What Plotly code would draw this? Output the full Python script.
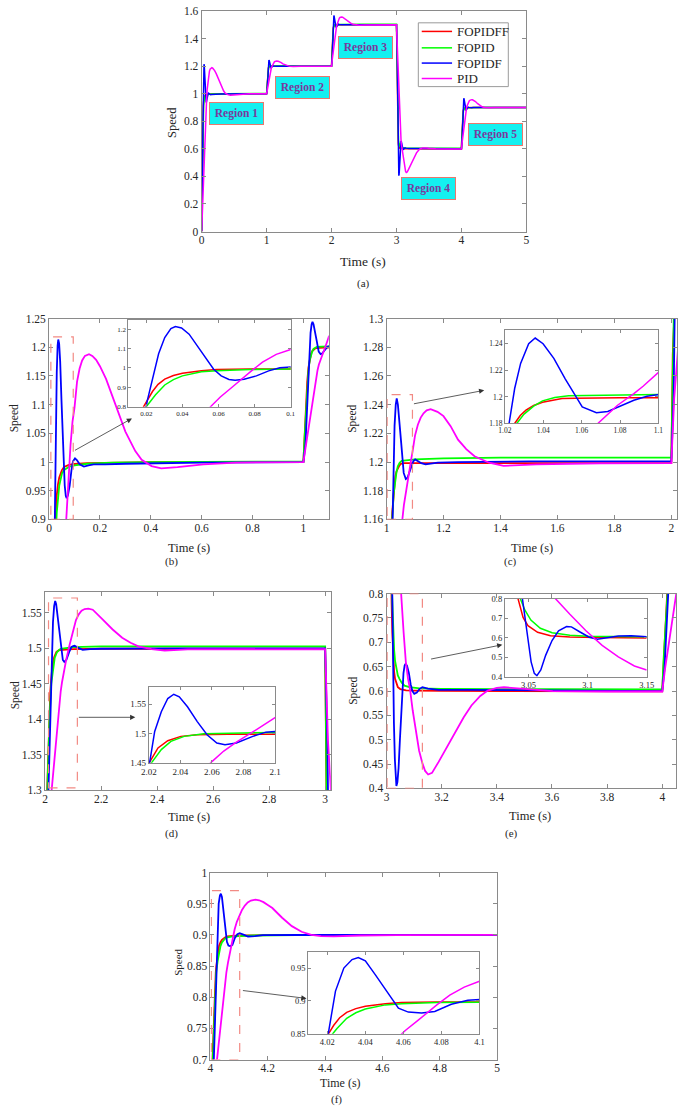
import plotly.graph_objects as go

W, H = 685, 1112

# ---------------- data (time in s, speed) ----------------
# FOPIDFF (red)
fopidff_t_r1 = [0, 0.005, 0.010, 0.015, 0.0185, 0.0205, 0.0234, 0.0265, 0.0302, 0.035, 0.040, 0.0505, 0.059, 0.0776, 0.100, 0.150, 0.250, 0.400, 1.000]
fopidff_y_r1 = [0, 0.25, 0.50, 0.70, 0.80, 0.835, 0.878, 0.915, 0.942, 0.961, 0.973, 0.986, 0.9915, 0.995, 0.9966, 0.998, 0.999, 1.0, 1.0]
fopidff_t_r2 = [1.005, 1.010, 1.015, 1.020, 1.0251, 1.028, 1.031, 1.035, 1.0396, 1.045, 1.0498, 1.057, 1.063, 1.080, 1.100, 1.200, 1.500, 2.000]
fopidff_y_r2 = [1.05, 1.10, 1.14, 1.165, 1.18, 1.186, 1.190, 1.1935, 1.196, 1.1975, 1.1987, 1.199, 1.1992, 1.1993, 1.1993, 1.1993, 1.1993, 1.1993]
fopidff_t_r3 = [2.005, 2.010, 2.015, 2.0185, 2.0206, 2.0258, 2.032, 2.0403, 2.0507, 2.070, 2.100, 2.200, 3.000]
fopidff_y_r3 = [1.275, 1.35, 1.41, 1.44, 1.4517, 1.4753, 1.4876, 1.495, 1.4978, 1.4985, 1.499, 1.4995, 1.4995]
fopidff_t_r4 = [3.005, 3.010, 3.015, 3.0185, 3.021, 3.024, 3.0275, 3.031, 3.036, 3.041, 3.050, 3.060, 3.071, 3.100, 3.200, 4.000]
fopidff_y_r4 = [1.275, 1.05, 0.87, 0.78, 0.72, 0.67, 0.64, 0.625, 0.614, 0.608, 0.604, 0.6025, 0.6015, 0.601, 0.6003, 0.5995]
fopidff_t_r5 = [4.005, 4.010, 4.015, 4.0185, 4.0205, 4.0234, 4.0265, 4.0302, 4.035, 4.040, 4.0505, 4.059, 4.0776, 4.100, 4.200, 4.500, 5.000]
fopidff_y_r5 = [0.675, 0.75, 0.81, 0.84, 0.85, 0.863, 0.8745, 0.8826, 0.8883, 0.892, 0.8958, 0.8975, 0.8985, 0.899, 0.8995, 0.9, 0.9]

# FOPID (green)
fopid_t_r1 = [0, 0.005, 0.010, 0.015, 0.020, 0.0251, 0.0302, 0.035, 0.040, 0.0505, 0.059, 0.0776, 0.100, 0.150, 0.250, 0.400, 1.000]
fopid_y_r1 = [0, 0.22, 0.45, 0.65, 0.80, 0.861, 0.912, 0.940, 0.959, 0.980, 0.986, 0.9915, 0.994, 0.997, 0.999, 1.0, 1.001]
fopid_t_r2 = [1.005, 1.010, 1.015, 1.020, 1.0251, 1.030, 1.035, 1.0396, 1.046, 1.0532, 1.070, 1.100, 1.200, 1.400, 2.000]
fopid_y_r2 = [1.045, 1.09, 1.13, 1.16, 1.178, 1.187, 1.193, 1.197, 1.1995, 1.2008, 1.2013, 1.2018, 1.2026, 1.203, 1.203]
fopid_t_r3 = [2.005, 2.010, 2.015, 2.0217, 2.0279, 2.034, 2.0424, 2.0548, 2.100, 2.200, 2.500, 3.000]
fopid_y_r3 = [1.265, 1.335, 1.395, 1.45, 1.4725, 1.4865, 1.495, 1.4994, 1.5017, 1.5028, 1.503, 1.503]
fopid_t_r4 = [3.005, 3.010, 3.015, 3.020, 3.024, 3.0275, 3.031, 3.036, 3.041, 3.047, 3.055, 3.065, 3.083, 3.120, 3.200, 3.600, 4.000]
fopid_y_r4 = [1.29, 1.08, 0.905, 0.80, 0.72, 0.685, 0.662, 0.645, 0.632, 0.625, 0.617, 0.611, 0.608, 0.6055, 0.6045, 0.6038, 0.6035]
fopid_t_r5 = [4.005, 4.010, 4.015, 4.020, 4.0251, 4.0302, 4.035, 4.040, 4.0505, 4.059, 4.0776, 4.100, 4.150, 4.300, 5.000]
fopid_y_r5 = [0.666, 0.735, 0.795, 0.84, 0.858, 0.8736, 0.882, 0.8877, 0.894, 0.8958, 0.8975, 0.898, 0.899, 0.8998, 0.9]

# FOPIDF (blue)
fopidf_t_r1 = [0, 0.008, 0.014, 0.018, 0.0205, 0.0234, 0.0268, 0.0302, 0.0336, 0.0361, 0.0395, 0.0437, 0.0488, 0.0531, 0.0573, 0.0615, 0.0658, 0.0692, 0.0742, 0.081, 0.0878, 0.094, 0.102, 0.110, 0.120, 0.137, 0.155, 0.175, 0.220, 0.300, 0.600, 1.000]
fopidf_y_r1 = [0, 0.15, 0.45, 0.70, 0.83, 0.937, 1.073, 1.157, 1.203, 1.2136, 1.207, 1.1746, 1.107, 1.047, 0.9932, 0.959, 0.9407, 0.937, 0.942, 0.959, 0.985, 1.001, 1.0065, 1.003, 0.996, 0.992, 0.994, 0.996, 0.996, 0.997, 0.999, 1.0]
fopidf_t_r2 = [1.008, 1.014, 1.018, 1.0222, 1.0251, 1.0282, 1.0324, 1.0358, 1.0399, 1.0455, 1.0515, 1.0603, 1.0677, 1.0736, 1.080, 1.0872, 1.094, 1.1006, 1.110, 1.122, 1.137, 1.155, 1.180, 1.250, 1.500, 2.000]
fopidf_y_r2 = [1.03, 1.09, 1.14, 1.18, 1.2063, 1.2252, 1.24, 1.2443, 1.24, 1.229, 1.2134, 1.1924, 1.1881, 1.189, 1.193, 1.1975, 1.2005, 1.2018, 1.2008, 1.1992, 1.1984, 1.199, 1.1996, 1.2, 1.2004, 1.2004]
fopidf_t_r3 = [2.008, 2.014, 2.018, 2.0206, 2.0237, 2.0279, 2.032, 2.0358, 2.0393, 2.0445, 2.0507, 2.0569, 2.0631, 2.0683, 2.0755, 2.0859, 2.0942, 2.100, 2.105, 2.115, 2.134, 2.160, 2.200, 2.500, 3.000]
fopidf_y_r3 = [1.245, 1.335, 1.41, 1.4517, 1.5034, 1.537, 1.5596, 1.5669, 1.5624, 1.5455, 1.5202, 1.4978, 1.4837, 1.4809, 1.4837, 1.495, 1.5022, 1.5034, 1.5037, 1.5015, 1.498, 1.499, 1.4995, 1.5, 1.5]
fopidf_t_r4 = [3.008, 3.014, 3.018, 3.0206, 3.0234, 3.0268, 3.0302, 3.0336, 3.0358, 3.0395, 3.0437, 3.0488, 3.0531, 3.0573, 3.0615, 3.0658, 3.0692, 3.0742, 3.081, 3.0878, 3.094, 3.1006, 3.110, 3.120, 3.130, 3.150, 3.189, 3.300, 3.600, 4.000]
fopidf_y_r4 = [1.365, 1.095, 0.87, 0.75, 0.66, 0.535, 0.46, 0.417, 0.405, 0.413, 0.442, 0.503, 0.558, 0.606, 0.637, 0.653, 0.656, 0.652, 0.637, 0.613, 0.600, 0.5942, 0.597, 0.6045, 0.6078, 0.605, 0.6024, 0.6022, 0.601, 0.600]
fopidf_t_r5 = [4.008, 4.014, 4.018, 4.0205, 4.0243, 4.0287, 4.033, 4.0363, 4.040, 4.0452, 4.0522, 4.0574, 4.0626, 4.0696, 4.0765, 4.0852, 4.0939, 4.102, 4.115, 4.131, 4.155, 4.182, 4.300, 5.000]
fopidf_y_r5 = [0.645, 0.735, 0.81, 0.85, 0.915, 0.950, 0.963, 0.966, 0.961, 0.94, 0.91, 0.889, 0.883, 0.8816, 0.884, 0.895, 0.901, 0.9026, 0.9005, 0.8974, 0.898, 0.8995, 0.8998, 0.9]

# PID (magenta)
pid_t_r1 = [0, 0.010, 0.020, 0.030, 0.040, 0.048, 0.0556, 0.061, 0.0675, 0.0725, 0.0776, 0.0844, 0.092, 0.100, 0.110, 0.120, 0.130, 0.141, 0.157, 0.170, 0.185, 0.200, 0.224, 0.262, 0.300, 0.339, 0.364, 0.403, 0.441, 0.505, 0.607, 0.735, 1.000]
pid_y_r1 = [0, 0.145, 0.29, 0.44, 0.59, 0.71, 0.80, 0.85, 0.90, 0.94, 0.98, 1.03, 1.07, 1.095, 1.14, 1.163, 1.177, 1.185, 1.188, 1.185, 1.178, 1.167, 1.145, 1.099, 1.053, 1.019, 1.004, 0.993, 0.989, 0.991, 0.996, 0.999, 1.0]
pid_t_r2 = [1.010, 1.020, 1.030, 1.040, 1.048, 1.0556, 1.061, 1.0685, 1.0725, 1.0787, 1.0872, 1.092, 1.100, 1.110, 1.120, 1.130, 1.141, 1.155, 1.179, 1.200, 1.225, 1.251, 1.280, 1.309, 1.335, 1.360, 1.411, 1.526, 1.750, 2.000]
pid_y_r2 = [1.029, 1.058, 1.088, 1.118, 1.142, 1.16, 1.17, 1.18, 1.186, 1.1937, 1.2025, 1.208, 1.2184, 1.226, 1.231, 1.234, 1.236, 1.2369, 1.235, 1.232, 1.225, 1.2156, 1.209, 1.204, 1.2015, 1.1995, 1.1973, 1.1984, 1.199, 1.1992]
pid_t_r3 = [2.010, 2.023, 2.030, 2.040, 2.048, 2.0556, 2.060, 2.0675, 2.0755, 2.088, 2.100, 2.110, 2.120, 2.130, 2.141, 2.154, 2.170, 2.185, 2.205, 2.240, 2.275, 2.305, 2.333, 2.380, 2.427, 2.509, 2.650, 3.000]
pid_y_r3 = [1.244, 1.30, 1.332, 1.377, 1.413, 1.44, 1.452, 1.47, 1.485, 1.5062, 1.527, 1.540, 1.548, 1.553, 1.5555, 1.556, 1.5545, 1.549, 1.541, 1.527, 1.515, 1.508, 1.503, 1.499, 1.497, 1.4986, 1.499, 1.499]
pid_t_r4 = [3.010, 3.023, 3.030, 3.040, 3.048, 3.053, 3.062, 3.070, 3.078, 3.085, 3.095, 3.105, 3.118, 3.130, 3.140, 3.151, 3.165, 3.189, 3.220, 3.249, 3.280, 3.308, 3.340, 3.367, 3.400, 3.426, 3.460, 3.497, 3.550, 3.603, 3.800, 4.000]
pid_y_r4 = [1.37, 1.20, 1.10, 0.96, 0.855, 0.80, 0.72, 0.66, 0.625, 0.6044, 0.56, 0.52, 0.478, 0.452, 0.436, 0.4286, 0.432, 0.4545, 0.485, 0.5159, 0.546, 0.5704, 0.590, 0.601, 0.6065, 0.6078, 0.6065, 0.6044, 0.602, 0.5997, 0.599, 0.599]
pid_t_r5 = [4.010, 4.023, 4.030, 4.040, 4.048, 4.0556, 4.061, 4.0675, 4.0725, 4.0776, 4.0844, 4.092, 4.100, 4.110, 4.120, 4.130, 4.141, 4.157, 4.170, 4.185, 4.200, 4.216, 4.250, 4.284, 4.318, 4.352, 4.386, 4.430, 4.523, 4.650, 5.000]
pid_y_r5 = [0.645, 0.70, 0.732, 0.777, 0.813, 0.84, 0.855, 0.87, 0.882, 0.894, 0.909, 0.921, 0.93, 0.94, 0.947, 0.952, 0.955, 0.9565, 0.9555, 0.9525, 0.948, 0.943, 0.9275, 0.914, 0.905, 0.900, 0.898, 0.8975, 0.899, 0.8997, 0.9]

# detail curves shown in the inset of panel (e), as drawn there
inset_e_fopidff_t = [3.038, 3.0413, 3.0426, 3.0454, 3.0495, 3.0577, 3.0686, 3.085, 3.110, 3.150]
inset_e_fopidff_y = [0.87, 0.80, 0.761, 0.703, 0.661, 0.627, 0.61, 0.603, 0.600, 0.598]
inset_e_fopid_t = [3.040, 3.043, 3.047, 3.052, 3.060, 3.070, 3.085, 3.100, 3.120, 3.150]
inset_e_fopid_y = [0.86, 0.80, 0.74, 0.69, 0.648, 0.625, 0.612, 0.607, 0.606, 0.605]
inset_e_fopidf_t = [3.043, 3.0448, 3.0467, 3.0495, 3.0522, 3.0549, 3.0571, 3.0604, 3.0645, 3.0699, 3.0754, 3.0822, 3.0863, 3.0932, 3.1014, 3.1082, 3.115, 3.126, 3.1369, 3.150]
inset_e_fopidf_y = [0.88, 0.80, 0.694, 0.576, 0.476, 0.417, 0.405, 0.434, 0.509, 0.585, 0.635, 0.657, 0.655, 0.630, 0.602, 0.592, 0.597, 0.608, 0.610, 0.605]
inset_e_pid_t = [3.070, 3.0727, 3.085, 3.0986, 3.1123, 3.126, 3.1396, 3.150]
inset_e_pid_y = [0.83, 0.80, 0.719, 0.635, 0.56, 0.501, 0.455, 0.434]

controllers = ["FOPIDFF", "FOPID", "FOPIDF", "PID"]
colors = ["#FF0000", "#00FF00", "#0000FF", "#FF00FF"]
region_labels = ["Region 1", "Region 2", "Region 3", "Region 4", "Region 5"]
panel_captions = ["(a)", "(b)", "(c)", "(d)", "(e)", "(f)"]
x_title = "Time (s)"
y_title = "Speed"

# tick values
a_xticks = [0, 1, 2, 3, 4, 5]
a_yticks = [0, 0.2, 0.4, 0.6, 0.8, 1, 1.2, 1.4, 1.6]
b_xticks = [0, 0.2, 0.4, 0.6, 0.8, 1]
b_yticks = [0.9, 0.95, 1, 1.05, 1.1, 1.15, 1.2, 1.25]
c_xticks = [1, 1.2, 1.4, 1.6, 1.8, 2]
c_yticks = [1.16, 1.18, 1.2, 1.22, 1.24, 1.26, 1.28, 1.3]
d_xticks = [2, 2.2, 2.4, 2.6, 2.8, 3]
d_yticks = [1.3, 1.35, 1.4, 1.45, 1.5, 1.55]
e_xticks = [3, 3.2, 3.4, 3.6, 3.8, 4]
e_yticks = [0.4, 0.45, 0.5, 0.55, 0.6, 0.65, 0.7, 0.75, 0.8]
f_xticks = [4, 4.2, 4.4, 4.6, 4.8, 5]
f_yticks = [0.7, 0.75, 0.8, 0.85, 0.9, 0.95, 1]
bi_xticks = [0.02, 0.04, 0.06, 0.08, 0.1]
bi_yticks = [0.8, 0.9, 1, 1.1, 1.2]
ci_xticks = [1.02, 1.04, 1.06, 1.08, 1.1]
ci_yticks = [1.18, 1.2, 1.22, 1.24]
di_xticks = [2.02, 2.04, 2.06, 2.08, 2.1]
di_yticks = [1.45, 1.5, 1.55]
ei_xticks = [3.05, 3.1, 3.15]
ei_yticks = [0.4, 0.5, 0.6, 0.7, 0.8]
fi_xticks = [4.02, 4.04, 4.06, 4.08, 4.1]
fi_yticks = [0.85, 0.9, 0.95]

# ---------------- assemble full time series ----------------
def join(parts):
    t, y = [], []
    for tt, yy in parts:
        t += list(tt)
        y += list(yy)
    return t, y

full = [
    join([(fopidff_t_r1, fopidff_y_r1), (fopidff_t_r2, fopidff_y_r2), (fopidff_t_r3, fopidff_y_r3), (fopidff_t_r4, fopidff_y_r4), (fopidff_t_r5, fopidff_y_r5)]),
    join([(fopid_t_r1, fopid_y_r1), (fopid_t_r2, fopid_y_r2), (fopid_t_r3, fopid_y_r3), (fopid_t_r4, fopid_y_r4), (fopid_t_r5, fopid_y_r5)]),
    join([(fopidf_t_r1, fopidf_y_r1), (fopidf_t_r2, fopidf_y_r2), (fopidf_t_r3, fopidf_y_r3), (fopidf_t_r4, fopidf_y_r4), (fopidf_t_r5, fopidf_y_r5)]),
    join([(pid_t_r1, pid_y_r1), (pid_t_r2, pid_y_r2), (pid_t_r3, pid_y_r3), (pid_t_r4, pid_y_r4), (pid_t_r5, pid_y_r5)]),
]
inset_e = [
    (inset_e_fopidff_t, inset_e_fopidff_y),
    (inset_e_fopid_t, inset_e_fopid_y),
    (inset_e_fopidf_t, inset_e_fopidf_y),
    (inset_e_pid_t, inset_e_pid_y),
]

# ---------------- layout helpers ----------------
def fx(p):
    return p / W

def fy(p):
    return 1 - p / H

FRAME = "#8a8a8a"
TXT = "#262626"
SERIF = "Times New Roman, Liberation Serif, serif"

# (box px: left, top, right, bottom), xrange, yrange, xticks, yticks, tick font, tick length, line width
panels = [
    ((198, 5, 530, 228), [0, 5], [0, 1.6], a_xticks, a_yticks, 11.5, 4, 1.5),
    ((42, 316, 328, 519), [0, 1.1], [0.9, 1.25], b_xticks, b_yticks, 11.5, 4, 1.8),
    ((387, 316, 684, 519), [1, 2.02], [1.16, 1.3], c_xticks, c_yticks, 11.5, 4, 1.8),
    ((38, 592, 330, 793), [2, 3.02], [1.3, 1.58], d_xticks, d_yticks, 11.5, 4, 1.8),
    ((387, 594, 683, 791), [3, 4.05], [0.4, 0.8], e_xticks, e_yticks, 11.5, 4, 1.8),
    ((207, 876, 500, 1065), [4, 5], [0.7, 1], f_xticks, f_yticks, 11.5, 4, 1.8),
    ((123, 317, 289, 405), [0.01, 0.1], [0.8, 1.25], bi_xticks, bi_yticks, 7, 3, 1.5),
    ((508, 328, 665, 422), [1.02, 1.1], [1.18, 1.25], ci_xticks, ci_yticks, 7.5, 3, 1.5),
    ((144, 688, 273, 765), [2.02, 2.1], [1.45, 1.58], di_xticks, di_yticks, 9, 3, 1.5),
    ((508, 599, 653, 678), [3.03, 3.15], [0.4, 0.8], ei_xticks, ei_yticks, 8.5, 3, 1.5),
    ((307, 956, 482, 1039), [4.01, 4.1], [0.85, 0.975], fi_xticks, fi_yticks, 8.5, 3, 1.5),
]

fig = go.Figure()
layout = dict(
    width=W, height=H, autosize=False,
    margin=dict(l=0, r=0, t=0, b=0, pad=0),
    paper_bgcolor="white", plot_bgcolor="white",
    showlegend=False,
    font=dict(family=SERIF, color=TXT),
)

for i, (box, xr, yr, xt, yt, fs, tl, lw) in enumerate(panels, start=1):
    l, t, r, b = box
    sfx = "" if i == 1 else str(i)
    common = dict(
        tickmode="array", ticks="inside", ticklen=tl, tickwidth=1, tickcolor=FRAME,
        showline=True, linecolor=FRAME, linewidth=1, mirror="ticks",
        showgrid=False, zeroline=False, fixedrange=True, ticklabeloverflow="allow",
        tickfont=dict(family=SERIF, size=fs, color=TXT),
    )
    layout["xaxis" + sfx] = dict(common, domain=[fx(l), fx(r)], range=xr, anchor="y" + sfx,
                                 tickvals=xt, ticktext=[f"{v:g}" for v in xt],
                                 ticklabelstandoff=(-2 if i <= 6 else 0))
    layout["yaxis" + sfx] = dict(common, domain=[fy(b), fy(t)], range=yr, anchor="x" + sfx,
                                 tickvals=yt, ticktext=[f"{v:g}" for v in yt])
    sources = inset_e if i == 10 else full
    for k, (tt, yy) in enumerate(sources):
        fig.add_trace(go.Scatter(
            x=tt, y=yy, mode="lines", name=controllers[k],
            line=dict(color=colors[k], width=lw),
            xaxis="x" + sfx, yaxis="y" + sfx, showlegend=False, hoverinfo="skip",
        ))

annotations = []
shapes = []

# axis titles and captions (pixel positions)
xtitle_pos = [(363, 258), (185, 548), (536, 548), (185, 820), (534, 819), (340, 1089)]
caption_pos = [(363, 281), (167, 562), (514, 562), (167, 837), (515, 837), (336, 1105)]
ytitle_pos = [(167, 118), (7, 417), (352, 417), (8, 697), (353, 692), (173, 967)]
title_sizes = [13.5, 12.5, 12.5, 12.5, 12.5, 12]
for j in range(6):
    annotations.append(dict(text=x_title, x=fx(xtitle_pos[j][0]), y=fy(xtitle_pos[j][1]), xref="paper", yref="paper",
                            showarrow=False, xanchor="center", yanchor="middle",
                            font=dict(family=SERIF, size=title_sizes[j], color=TXT)))
    annotations.append(dict(text=panel_captions[j], x=fx(caption_pos[j][0]), y=fy(caption_pos[j][1]), xref="paper", yref="paper",
                            showarrow=False, xanchor="center", yanchor="middle",
                            font=dict(family=SERIF, size=11, color=TXT)))
    annotations.append(dict(text=y_title, x=fx(ytitle_pos[j][0]), y=fy(ytitle_pos[j][1]), xref="paper", yref="paper",
                            showarrow=False, xanchor="center", yanchor="middle", textangle=-90,
                            font=dict(family=SERIF, size=title_sizes[j] - 1, color=TXT)))

# region labels in panel (a)
region_pos = [(0.532, 0.859), (1.551, 1.044), (2.52, 1.332), (3.494, 0.313), (4.521, 0.703)]
for lab, (rx, ry) in zip(region_labels, region_pos):
    annotations.append(dict(text="<b>" + lab + "</b>", x=rx, y=ry, xref="x", yref="y", showarrow=False,
                            xanchor="center", yanchor="middle", width=51, height=19, borderpad=1,
                            bgcolor="#14F0F0", bordercolor="#E8786E", borderwidth=1,
                            font=dict(family=SERIF, size=11.5, color="#7A3A9C")))

# zoom rectangles and arrows in panels (b)-(f)
zoom_rects = [
    ("x2", "y2", 0.007, 0.095, 0.9, 1.218),
    ("x3", "y3", 1.002, 1.091, 1.16, 1.247),
    ("x4", "y4", 2.012, 2.115, 1.3035, 1.571),
    ("x5", "y5", 3.002, 3.13, 0.4, 0.8),
    ("x6", "y6", 4.003, 4.102, 0.7, 0.971),
]
for xr_, yr_, x0, x1, y0, y1 in zoom_rects:
    shapes.append(dict(type="rect", xref=xr_, yref=yr_, x0=x0, x1=x1, y0=y0, y1=y1, layer="above",
                       line=dict(color="#F28A84", width=1.2, dash="dash"), fillcolor="rgba(0,0,0,0)"))

arrows = [
    ("x2", "y2", 0.096, 1.019, 0.326, 1.076),
    ("x3", "y3", 1.091, 1.2404, 1.343, 1.25),
    ("x4", "y4", 2.115, 1.403, 2.322, 1.403),
    ("x5", "y5", 3.156, 0.665, 3.42, 0.695),
    ("x6", "y6", 4.108, 0.811, 4.335, 0.798),
]
for xr_, yr_, ax, ay, hx, hy in arrows:
    annotations.append(dict(text="", x=hx, y=hy, ax=ax, ay=ay, xref=xr_, yref=yr_, axref=xr_, ayref=yr_,
                            showarrow=True, arrowhead=2, arrowsize=1.3, arrowwidth=0.8, arrowcolor="#333333",
                            standoff=0, startstandoff=0))

# legend box of panel (a)
shapes.append(dict(type="rect", xref="paper", yref="paper", x0=fx(419.5), x1=fx(511.5), y0=fy(81.5), y1=fy(17),
                   line=dict(color="#9a9a9a", width=1), fillcolor="white", layer="above"))
leg_y = [25.7, 42.3, 57.7, 73.3]
for k in range(4):
    shapes.append(dict(type="line", xref="paper", yref="paper", x0=fx(423), x1=fx(454), y0=fy(leg_y[k]), y1=fy(leg_y[k]),
                       line=dict(color=colors[k], width=1.5), layer="above"))
    annotations.append(dict(text=controllers[k], x=fx(457), y=fy(leg_y[k]), xref="paper", yref="paper",
                            showarrow=False, xanchor="left", yanchor="middle",
                            font=dict(family=SERIF, size=13, color=TXT)))

layout["annotations"] = annotations
layout["shapes"] = shapes
fig.update_layout(**layout)

fig.write_html(
    "out.html",
    config={"displayModeBar": False, "staticPlot": True},
    post_script="document.body.style.margin='0';document.body.style.padding='0';document.body.style.overflow='hidden';",
)
